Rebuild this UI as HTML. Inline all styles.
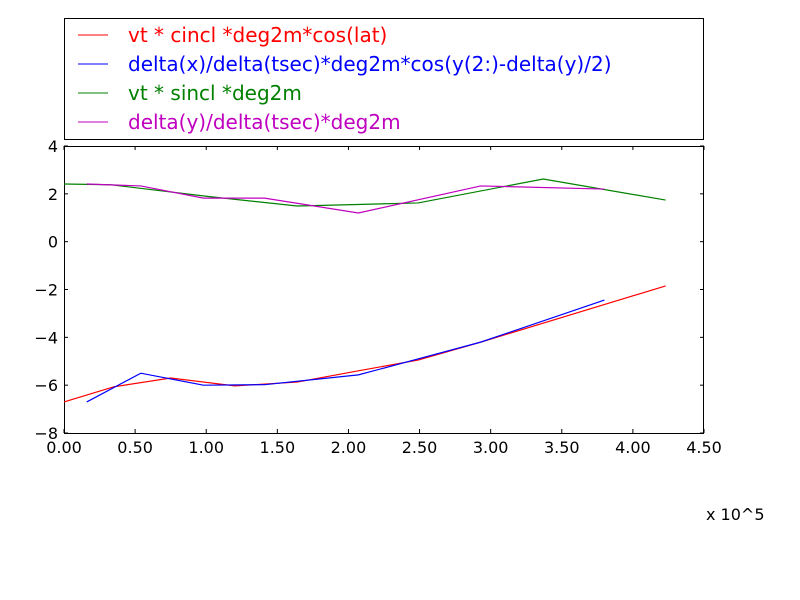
<!DOCTYPE html>
<html><head><meta charset="utf-8"><style>
body{margin:0;background:#fff;}
svg{display:block;font-family:"DejaVu Sans","Liberation Sans",sans-serif;}
</style></head><body>
<svg id="chart" width="800" height="600">
<rect x="64.5" y="18.5" width="639" height="121" fill="#fff" stroke="#000"/>
<g id="legend"></g>
<rect x="64.5" y="146.5" width="639" height="287" fill="none" stroke="#000"/>
<g id="ticks"></g>
<g id="series"></g>
<text x="706" y="520" font-size="16">x 10^5</text>
</svg>
<script>
const xTicks=[0,0.5,1,1.5,2,2.5,3,3.5,4,4.5];
const xTickLabels=["0.00","0.50","1.00","1.50","2.00","2.50","3.00","3.50","4.00","4.50"];
const yTicks=[4,2,0,-2,-4,-6,-8];
const yTickLabels=["4","2","0","\u22122","\u22124","\u22126","\u22128"];
const redX=[0,0.35,0.75,1.2,1.64,2.07,2.49,2.93,4.23];
const redY=[-6.7,-6.07,-5.7,-6.03,-5.87,-5.4,-4.95,-4.2,-1.85];
const blueX=[0.16,0.54,0.98,1.41,2.07,2.93,3.8];
const blueY=[-6.7,-5.5,-6.0,-5.98,-5.57,-4.2,-2.44];
const greenX=[0,0.33,1.0,1.64,2.49,3.37,4.23];
const greenY=[2.41,2.38,1.9,1.49,1.62,2.62,1.74];
const magX=[0.16,0.54,0.98,1.41,2.07,2.93,3.8];
const magY=[2.41,2.33,1.82,1.82,1.2,2.33,2.2];
const labels=["vt * cincl *deg2m*cos(lat)","delta(x)/delta(tsec)*deg2m*cos(y(2:)-delta(y)/2)","vt * sincl *deg2m","delta(y)/delta(tsec)*deg2m"];
const colors=["#ff0000","#0000ff","#008000","#bf00bf"];
const NS="http://www.w3.org/2000/svg";
const X=v=>64+v*(640/4.5), Y=v=>146+(4-v)*(287/12);
const tk=document.getElementById('ticks');
function mk(tag,attrs,parent){const e=document.createElementNS(NS,tag);for(const k in attrs)e.setAttribute(k,attrs[k]);parent.appendChild(e);return e;}
xTicks.forEach((v,i)=>{const x=X(v);
 const a=mk('line',{x1:x,x2:x,y1:433,y2:429,stroke:'#000'},tk);
 
 
 const b=mk('line',{x1:x,x2:x,y1:146,y2:150,stroke:'#000'},tk);
 
 
 const t=mk('text',{x:x,y:453,'font-size':16,'text-anchor':'middle'},tk);t.textContent=xTickLabels[i];
 
 
});
yTicks.forEach((v,i)=>{const y=Y(v);
 const a=mk('line',{x1:64,x2:68,y1:y,y2:y,stroke:'#000'},tk);
 
 
 const b=mk('line',{x1:704,x2:700,y1:y,y2:y,stroke:'#000'},tk);
 
 
 const t=mk('text',{x:58,y:y+6,'font-size':16,'text-anchor':'end'},tk);t.textContent=yTickLabels[i];
 
 
});
const sg=document.getElementById('series');
[[redX,redY,'red-line'],[blueX,blueY,'blue-line'],[greenX,greenY,'green-line'],[magX,magY,'magenta-line']].forEach((s,i)=>{
 const pts=s[0].map((x,j)=>X(x)+','+Y(s[1][j])).join(' ');
 const p=mk('polyline',{points:pts,fill:'none',stroke:colors[i],'stroke-width':1.2},sg);
 
 
});
const lg=document.getElementById('legend');
labels.forEach((l,i)=>{const y=35+i*29;
 const ln=mk('line',{x1:78,x2:108,y1:y,y2:y,stroke:colors[i]},lg);
 
 
 const t=mk('text',{x:128,y:y+7,'font-size':20,fill:colors[i]},lg);t.textContent=l;
 
 
});
</script>
</body></html>
